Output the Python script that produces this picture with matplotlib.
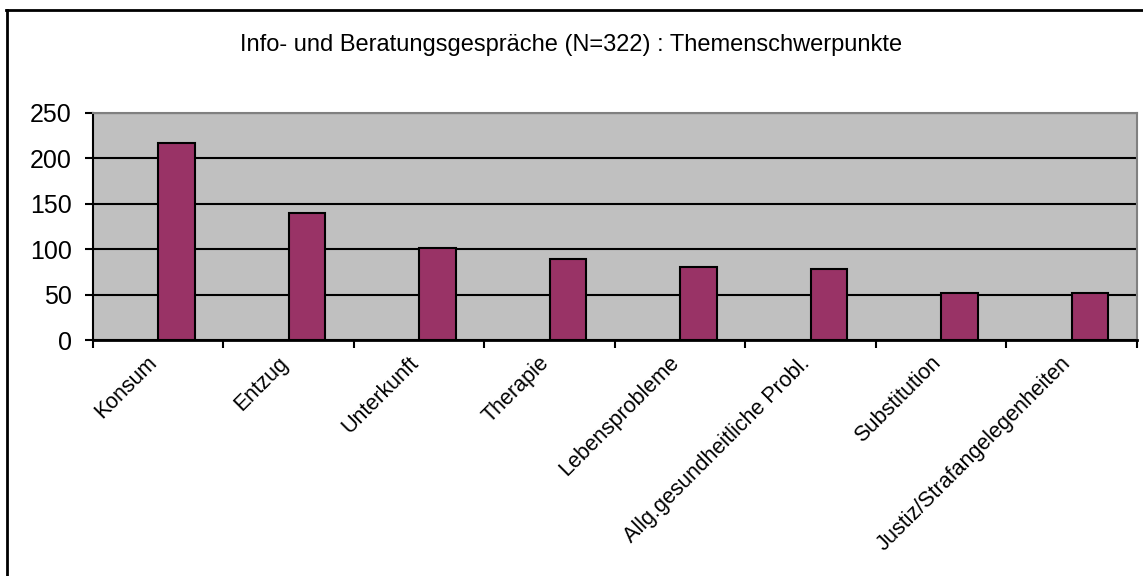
import matplotlib
matplotlib.use("Agg")
import matplotlib.pyplot as plt
from matplotlib.lines import Line2D
import numpy as np

categories = ["Konsum", "Entzug", "Unterkunft", "Therapie", "Lebensprobleme",
              "Allg.gesundheitliche Probl.", "Substitution", "Justiz/Strafangelegenheiten"]
values = [217, 140, 101, 89, 80, 78, 52, 52]
yticks = [0, 50, 100, 150, 200, 250]
title = "Info- und Beratungsgespräche (N=322) : Themenschwerpunkte"

plt.rcParams['font.family'] = ['Liberation Sans', 'DejaVu Sans']

W, H = 1143, 576
fig = plt.figure(figsize=(W / 100, H / 100), dpi=100)
ax = fig.add_axes([92.7 / W, 1 - 340 / H, (1137 - 92.7) / W, (340 - 112.7) / H])
ax.set_facecolor("#C0C0C0")

x = np.arange(len(categories))
ax.bar(x, values, width=0.28, align="edge", color="#993366",
       edgecolor="black", linewidth=1.5, zorder=3)

ax.set_xlim(-0.5, len(categories) - 0.5)
ax.set_ylim(0, 250)
ax.set_yticks(yticks)
ax.set_yticklabels([str(v) for v in yticks], fontsize=18)
ax.yaxis.grid(True, color="black", linewidth=1.5, zorder=1)
ax.set_axisbelow(True)

ax.set_xticks(np.arange(len(categories) + 1) - 0.5)
ax.set_xticklabels([])
ax.tick_params(axis="x", which="major", length=6, width=1.5, direction="out")
ax.tick_params(axis="y", length=6, width=1.5, direction="out", pad=9)

# category labels, rotated 45 degrees, right end near the category centre
for xi, lab in zip(x, categories):
    ax.annotate(lab, xy=(xi, 0), xycoords=("data", "axes fraction"),
                xytext=(-8, -9), textcoords="offset points",
                rotation=45, rotation_mode="anchor", ha="right", va="top",
                fontsize=15.5, annotation_clip=False)

ax.spines["left"].set_linewidth(1.5)
ax.spines["bottom"].set_linewidth(2)
ax.spines["top"].set_color("#808080")
ax.spines["top"].set_linewidth(1.5)
ax.spines["right"].set_color("#808080")
ax.spines["right"].set_linewidth(1.5)

fig.text(571 / W, 1 - 45 / H, title, ha="center", va="center", fontsize=17)

# outer chart border (top and left)
fig.add_artist(Line2D([6 / W, 1.0], [1 - 10 / H, 1 - 10 / H], color="black", linewidth=2,
                      transform=fig.transFigure))
fig.add_artist(Line2D([7 / W, 7 / W], [0.0, 1 - 10 / H], color="black", linewidth=2,
                      transform=fig.transFigure))

fig.savefig("out.png", dpi=100, facecolor="white")
